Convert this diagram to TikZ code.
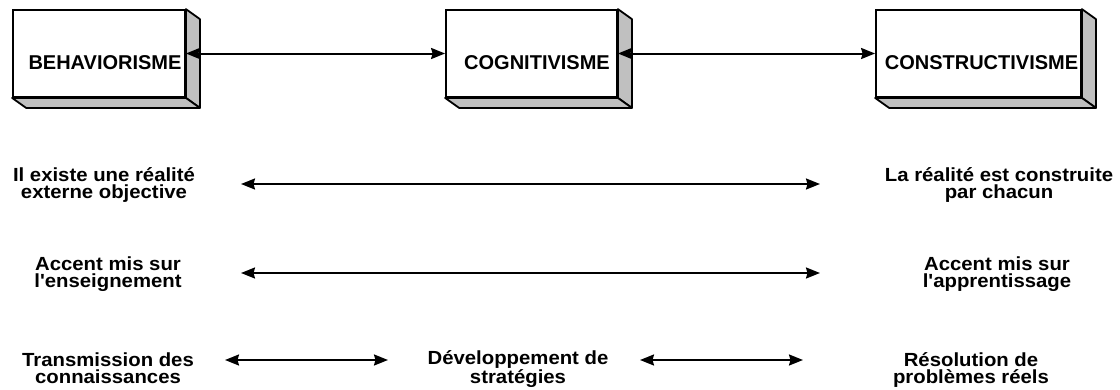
\documentclass[tikz,border=0pt]{standalone}
\usepackage{fontspec}
\setmainfont{Liberation Sans}
\newfontfamily\rowfont[FakeStretch=1.07]{Liberation Sans}
\usetikzlibrary{arrows.meta, calc}
\definecolor{ink}{HTML}{000000}
\definecolor{sideface}{HTML}{C0C0C0}

\begin{document}
\begin{tikzpicture}[x=1pt, y=-1pt,
  theorybox/.style = {draw=ink, fill=white, line width=1.8pt, minimum height=87pt, inner sep=0pt, text height=31pt, text depth=0pt, font=\fontsize{20}{24}\selectfont\bfseries},
  slab/.style      = {fill=sideface, draw=ink, line width=1.8pt, line join=round},
  rowtext/.style   = {align=center, anchor=base, inner sep=0pt, font=\rowfont\fontsize{19}{17}\selectfont\bfseries},
  arr/.style       = {{Stealth[length=14pt,width=11pt,inset=1.5pt]}-{Stealth[length=14pt,width=11pt,inset=1.5pt]}, line width=2pt, color=ink},
]
\useasboundingbox (0,0) rectangle (1120,389);
\node[theorybox, minimum width=172pt] (behav) at (99,53.5) {\hspace*{12pt}BEHAVIORISME};
\node[theorybox, minimum width=171pt] (cogni) at (531.5,53.5) {\hspace*{11pt}COGNITIVISME};
\node[theorybox, minimum width=205pt] (constr) at (978.5,53.5) {\hspace*{6pt}CONSTRUCTIVISME};
\foreach \b in {behav, cogni, constr} {
  \filldraw[slab] (\b.north east) -- ++(14,10) -- ($(\b.south east)+(14,10)$) -- (\b.south east) -- cycle;
  \filldraw[slab] (\b.south west) -- ++(14,10) -- ($(\b.south east)+(14,10)$) -- (\b.south east) -- cycle;
}
\draw[arr] (behav.east) -- (cogni.west);
\draw[arr] (cogni.east) -- (constr.west);
% rows of contrasts (base = last line)
\node[rowtext] (realobj) at (104,198) {Il existe une réalité\\externe objective};
\node[rowtext] (realcons) at (999,198) {La réalité est construite\\par chacun};
\node[rowtext] (enseign) at (108,287) {Accent mis sur\\l'enseignement};
\node[rowtext] (apprent) at (997,287) {Accent mis sur\\l'apprentissage};
\node[rowtext] (transm) at (108,383) {Transmission des\\connaissances};
\node[rowtext] (strat) at (518,383) {Développement de\\stratégies};
\node[rowtext] (resol) at (971,383) {Résolution de\\problèmes réels};
\coordinate (r1l) at (241,184);
\coordinate (r1r) at (820,184);
\coordinate (r2l) at (241,273);
\coordinate (r2r) at (820,273);
\coordinate (r3a) at (225,360);
\coordinate (r3b) at (388,360);
\coordinate (r3c) at (640,360);
\coordinate (r3d) at (803,360);
\draw[arr] (r1l) -- (r1r);
\draw[arr] (r2l) -- (r2r);
\draw[arr] (r3a) -- (r3b);
\draw[arr] (r3c) -- (r3d);
\end{tikzpicture}
\end{document}
